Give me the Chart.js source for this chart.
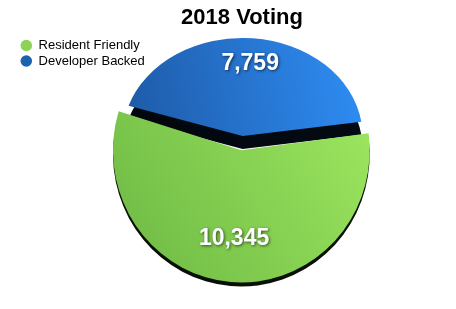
<!DOCTYPE html>
<html>
<head>
<meta charset="utf-8">
<script src="https://cdn.jsdelivr.net/npm/chart.js@4"></script>
<style>
  html, body { margin: 0; padding: 0; background: #fff; }
  #wrap { width: 456px; height: 309px; }
</style>
</head>
<body>
<div id="wrap"><canvas id="votingChart" width="456" height="309"></canvas></div>
<script>
/* ---- Data ---- */
const voteLabels = ["Resident Friendly", "Developer Backed"];
const voteCounts = [10345, 7759];
const legendColors = ["#8dd35a", "#1b62b0"];

/* ---- Fake 3D look: per-slice vertical squash + dark side wall ---- */
const sliceScaleX = [1.0, 0.96];
const sliceScaleY = [1.03, 0.785];
const wallDepth = [4, 13];
const labelRadius = [0.67, 0.74];
const fontStack = "'Liberation Sans', Arial, Helvetica, sans-serif";

function sliceFill(i, chart) {
  const { ctx, chartArea } = chart;
  if (!chartArea) return legendColors[i];
  const cx = (chartArea.left + chartArea.right) / 2;
  const cy = (chartArea.top + chartArea.bottom) / 2;
  let g;
  if (i === 0) {
    g = ctx.createLinearGradient(cx + 130, cy - 10, cx - 110, cy + 140);
    g.addColorStop(0, "#9ae45e");
    g.addColorStop(1, "#6eb944");
  } else {
    g = ctx.createLinearGradient(cx - 120, cy - 40, cx + 120, cy - 80);
    g.addColorStop(0, "#1e5ba9");
    g.addColorStop(1, "#2e8cf2");
  }
  return g;
}

function applySquash(ctx, arc, i) {
  ctx.translate(arc.x, arc.y);
  ctx.scale(sliceScaleX[i], sliceScaleY[i]);
  ctx.translate(-arc.x, -arc.y);
}

const pie3d = {
  id: "pie3d",
  afterLayout(chart) {
    // legend sits in the top-left corner, outside the pie's box
    const lg = chart.legend;
    if (!lg) return;
    const w = lg.width, h = lg.height;
    lg.left = 18; lg.top = 36.5;
    lg.right = lg.left + w; lg.bottom = lg.top + h;
  },
  beforeDatasetsDraw(chart) {
    const ctx = chart.ctx;
    const meta = chart.getDatasetMeta(0);
    // back slice first, front slice last
    [1, 0].forEach(i => {
      const arc = meta.data[i];
      ctx.save();
      ctx.translate(0, wallDepth[i]);
      applySquash(ctx, arc, i);
      ctx.filter = "brightness(0.08)";
      arc.draw(ctx);
      ctx.restore();

      ctx.save();
      applySquash(ctx, arc, i);
      arc.draw(ctx);
      ctx.restore();
    });

    // value labels
    meta.data.forEach((arc, i) => {
      const { x, y, startAngle, endAngle, outerRadius, circumference } = arc.getProps(
        ["x", "y", "startAngle", "endAngle", "outerRadius", "circumference"], true);
      const mid = (startAngle + endAngle) / 2;
      const off = (arc.options.offset || 0) / 4;
      const r = outerRadius + off * (1 - Math.sin(Math.min(Math.PI, circumference)));
      const dist = off + r * labelRadius[i];
      const lx = x + Math.cos(mid) * dist * sliceScaleX[i];
      const ly = y + Math.sin(mid) * dist * sliceScaleY[i];
      ctx.save();
      ctx.font = "bold 23px " + fontStack;
      ctx.textAlign = "center";
      ctx.textBaseline = "middle";
      ctx.fillStyle = "#ffffff";
      ctx.shadowColor = "rgba(0,0,0,0.6)";
      ctx.shadowBlur = 3;
      ctx.shadowOffsetX = 1;
      ctx.shadowOffsetY = 1;
      ctx.fillText(voteCounts[i].toLocaleString("en-US"), lx, ly);
      ctx.restore();
    });
    return false;
  }
};

new Chart(document.getElementById("votingChart"), {
  type: "pie",
  data: {
    labels: voteLabels,
    datasets: [{
      data: voteCounts,
      backgroundColor: (c) => sliceFill(c.dataIndex, c.chart),
      borderWidth: 0,
      offset: 31.5
    }]
  },
  options: {
    responsive: false,
    animation: false,
    rotation: 82,
    radius: 120.5,
    layout: { padding: { left: 28, top: 0, bottom: 56, right: 0 } },
    events: [],
    plugins: {
      title: {
        display: true,
        text: "2018 Voting",
        color: "#000",
        font: { family: fontStack, size: 22, weight: "bold" },
        padding: { top: 5, bottom: 0 }
      },
      legend: {
        display: true,
        position: "chartArea",
        align: "start",
        labels: {
          usePointStyle: true,
          pointStyle: "circle",
          pointStyleWidth: 11.6,
          boxHeight: 8.2,
          padding: 2.5,
          color: "#1a1a1a",
          font: { family: fontStack, size: 13 },
          generateLabels: () => voteLabels.map((t, i) => ({
            text: t,
            fillStyle: legendColors[i],
            strokeStyle: legendColors[i],
            lineWidth: 0,
            pointStyle: "circle",
            hidden: false,
            index: i
          }))
        }
      },
      tooltip: { enabled: false }
    }
  },
  plugins: [pie3d]
});
</script>
</body>
</html>
